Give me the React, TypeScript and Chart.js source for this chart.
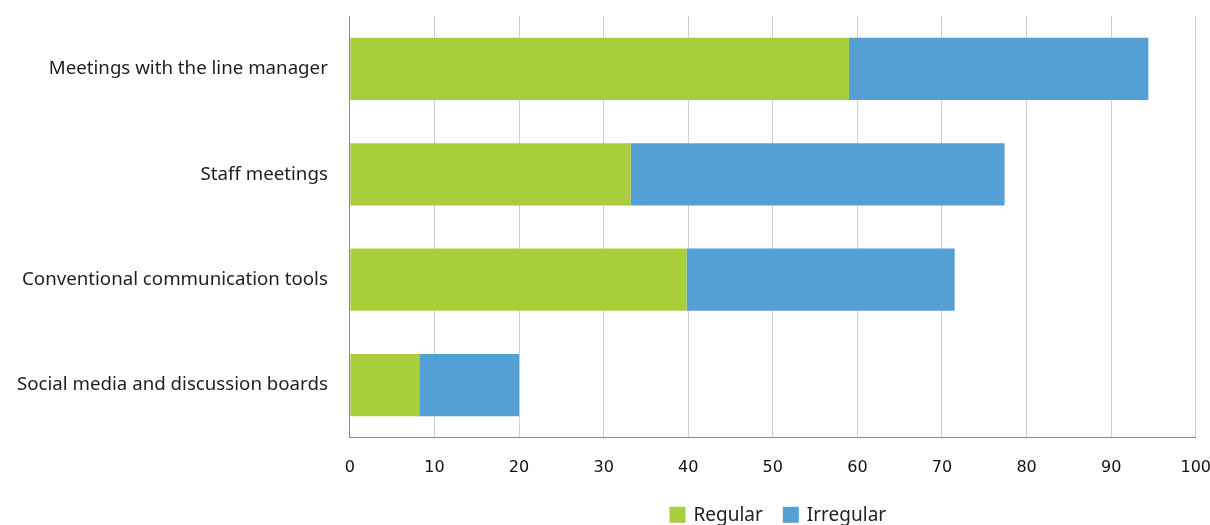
import React, { useEffect, useRef } from "react";
import { Chart, registerables } from "chart.js";

Chart.register(...registerables);

const categories = [
  "Meetings with the line manager",
  "Staff meetings",
  "Conventional communication tools",
  "Social media and discussion boards",
];
const seriesNames = ["Regular", "Irregular"];
const regular = [59.0, 33.2, 39.8, 8.2];
const irregular = [35.4, 44.2, 31.7, 11.8];
const xTicks = [0, 10, 20, 30, 40, 50, 60, 70, 80, 90, 100];

const GREEN = "#A8CE3B";
const BLUE = "#549FD6";
const LABEL_FONT = "Noto Sans";

const bottomLegend = {
  id: "bottomLegend",
  afterDraw(chart: any) {
    const { ctx, chartArea } = chart;
    const box = 16;
    const boxGap = 8;
    const itemGap = 20;
    ctx.save();
    ctx.font = `19px "${LABEL_FONT}"`;
    const items = chart.data.datasets.map((ds: any) => ({
      label: ds.label,
      color: ds.backgroundColor,
      w: ctx.measureText(ds.label).width,
    }));
    const total =
      items.reduce((s: number, it: any) => s + box + boxGap + it.w, 0) +
      itemGap * (items.length - 1);
    let x = (chartArea.left + chartArea.right) / 2 + 5 - total / 2;
    const cy = chartArea.bottom + 77;
    ctx.textBaseline = "middle";
    ctx.textAlign = "left";
    for (const it of items) {
      ctx.fillStyle = it.color;
      ctx.fillRect(x, cy - box / 2, box, box);
      x += box + boxGap;
      ctx.fillStyle = "#222";
      ctx.fillText(it.label, x, cy + 1);
      x += it.w + itemGap;
    }
    ctx.restore();
  },
};

export default function App() {
  const ref = useRef<HTMLCanvasElement | null>(null);
  useEffect(() => {
    if (!ref.current) return;
    const chart = new Chart(ref.current, {
      type: "bar",
      data: {
        labels: categories,
        datasets: [
          { label: seriesNames[0], data: regular, backgroundColor: GREEN, borderWidth: 0 },
          { label: seriesNames[1], data: irregular, backgroundColor: BLUE, borderWidth: 0 },
        ],
      },
      options: {
        indexAxis: "y",
        animation: false,
        responsive: true,
        maintainAspectRatio: false,
        datasets: { bar: { categoryPercentage: 1, barPercentage: 0.59 } },
        layout: { padding: { top: 0, left: 10, right: 0, bottom: 28 } },
        scales: {
          x: {
            stacked: true,
            min: 0,
            max: 100,
            afterBuildTicks: (axis: any) => {
              axis.ticks = xTicks.map((v) => ({ value: v }));
            },
            grid: { color: "#cfcfcf", lineWidth: 1, drawTicks: false },
            border: { color: "#8a8a8a", width: 1 },
            ticks: {
              color: "#111",
              font: { family: "DejaVu Sans", size: 16 },
              padding: 20,
              maxRotation: 0,
            },
          },
          y: {
            stacked: true,
            grid: { display: false, drawTicks: false },
            border: { color: "#8a8a8a", width: 1 },
            ticks: {
              color: "#1e1e1e",
              font: { family: LABEL_FONT, size: 18.7 },
              padding: 22,
            },
          },
        },
        plugins: {
          tooltip: { enabled: false },
          legend: { display: false },
        },
      },
      plugins: [bottomLegend],
    });
    return () => chart.destroy();
  }, []);
  return (
    <div style={{ position: "fixed", top: -17, left: -15, width: 1246, height: 542, background: "#fff" }}>
      <canvas ref={ref} />
    </div>
  );
}
